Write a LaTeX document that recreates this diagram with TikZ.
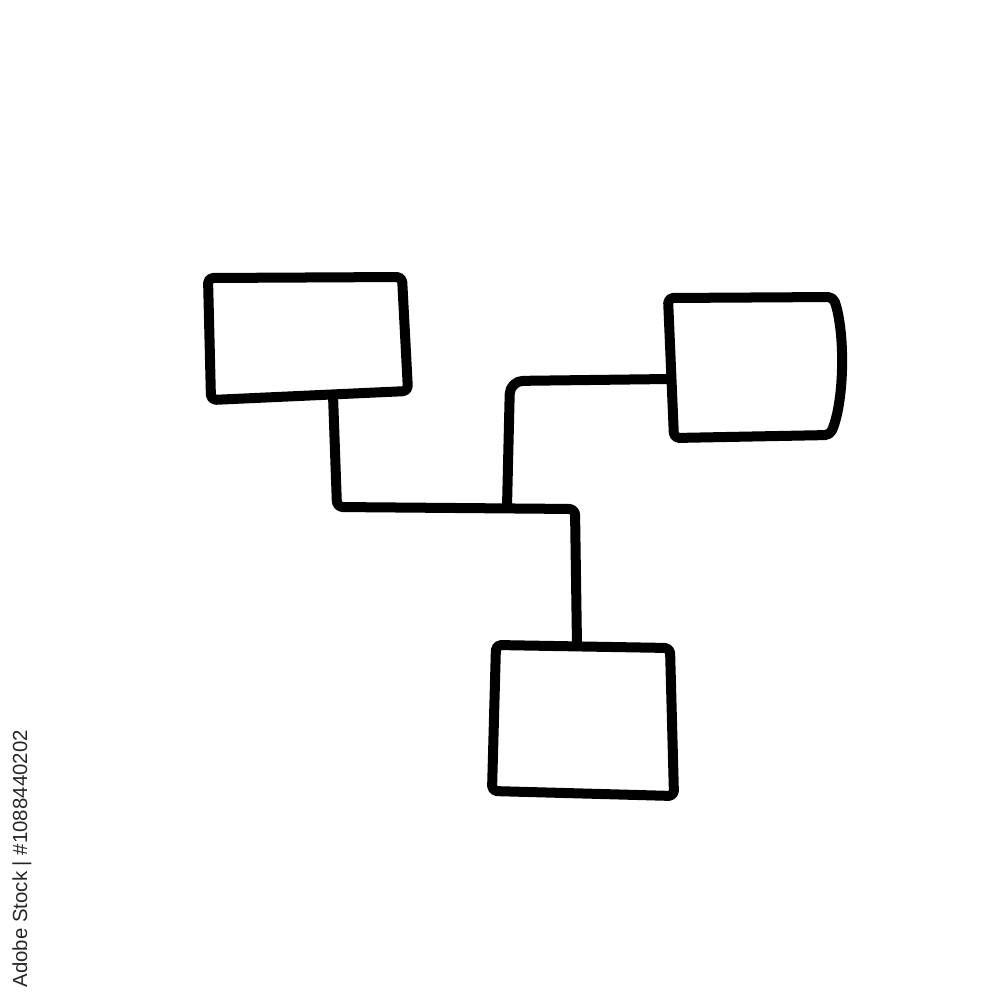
\documentclass[tikz,border=0pt]{standalone}
\usepackage{fontspec}
\newfontfamily\stockfont{Liberation Sans}
\usepackage{tikz}

\begin{document}
\begin{tikzpicture} [x=0.01cm, y=-0.01cm,
					box/.style = {draw,
					    line width = 1mm,
					    line join = round,
					    rounded corners = 0.5mm},
					wire/.style = {draw,
					    line width = 1mm,
					    line cap = round,
					    line join = round,
					    rounded corners = 0.6mm}]
					\useasboundingbox (0,0) rectangle (1000,1000);

					% top left box
					\coordinate (A1) at (208,278);
					\coordinate (A2) at (402,277);
					\coordinate (A3) at (408,391);
					\coordinate (A4) at (211,400);
					\path[box] (A1) -- (A2) -- (A3) -- (A4) -- cycle;

					% right box
					\coordinate (B1) at (668,298);
					\coordinate (B2) at (833,297);
					\coordinate (B3) at (830,435);
					\coordinate (B4) at (674,438);
					\path[box] (B1) -- (B2) .. controls (845,330) and (845,400) .. (B3) -- (B4) -- cycle;

					% bottom box
					\coordinate (C1) at (496,645);
					\coordinate (C2) at (670,648);
					\coordinate (C3) at (674,796);
					\coordinate (C4) at (492,791);
					\path[box] (C1) -- (C2) -- (C3) -- (C4) -- cycle;

					% connectors
					\coordinate (Aout) at (333,395);
					\coordinate (Cin) at (577,646);
					\coordinate (Bout) at (669,379);
					\coordinate (join) at (507,507);
					\path[wire] (Aout) -- (337,507) -- (575,509) -- (Cin);
					\path[wire, rounded corners = 1.3mm] (Bout) -- (510,381) -- (join);

					\node (stock) [rotate = 90, anchor = west, inner sep = 0pt,
					    text = black!85, font = \stockfont\fontsize{5.8}{6}\selectfont]
					    at (22,988) {Adobe Stock | \#1088440202};
				\end{tikzpicture}
\end{document}
